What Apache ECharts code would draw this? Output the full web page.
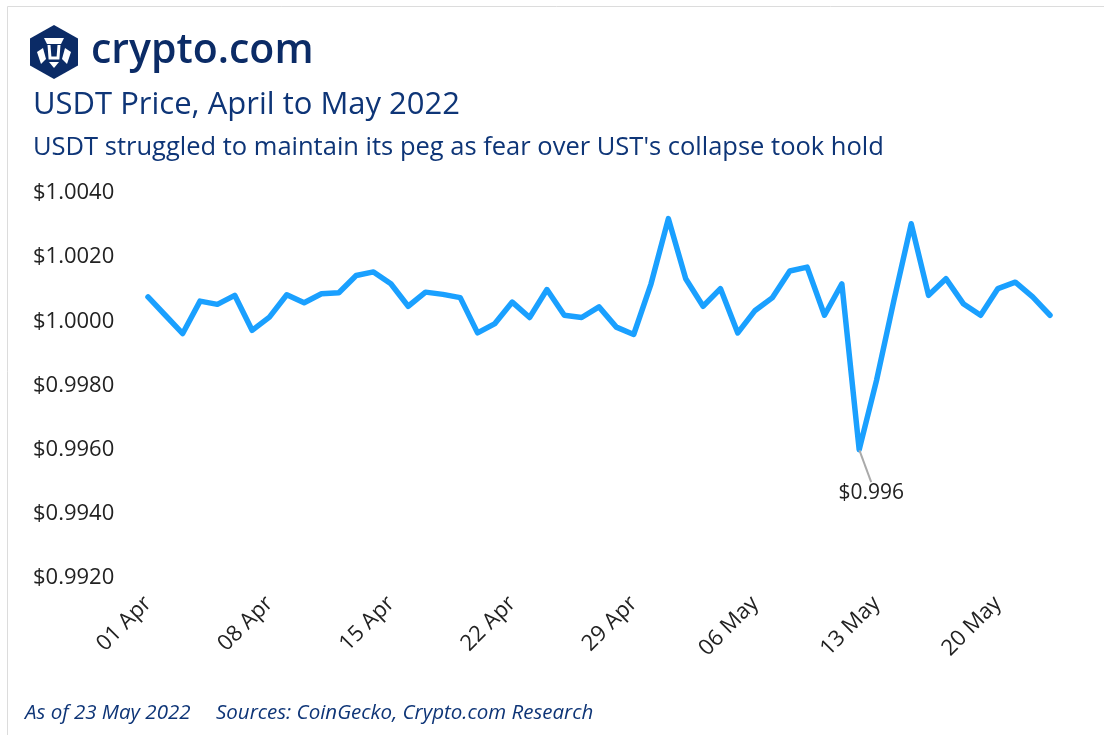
<!DOCTYPE html>
<html>
<head>
<meta charset="utf-8">
<script src="https://cdn.jsdelivr.net/npm/echarts@6/dist/echarts.min.js"></script>
<style>
  html, body { margin: 0; padding: 0; background: #fff; }
  #main { width: 1104px; height: 735px; }
</style>
</head>
<body>
<div id="main"></div>
<script>
// daily dates, 01 Apr - 23 May 2022
const dates = [
  '01 Apr','02 Apr','03 Apr','04 Apr','05 Apr','06 Apr','07 Apr','08 Apr','09 Apr','10 Apr',
  '11 Apr','12 Apr','13 Apr','14 Apr','15 Apr','16 Apr','17 Apr','18 Apr','19 Apr','20 Apr',
  '21 Apr','22 Apr','23 Apr','24 Apr','25 Apr','26 Apr','27 Apr','28 Apr','29 Apr','30 Apr',
  '01 May','02 May','03 May','04 May','05 May','06 May','07 May','08 May','09 May','10 May',
  '11 May','12 May','13 May','14 May','15 May','16 May','17 May','18 May','19 May','20 May',
  '21 May','22 May','23 May'
];

// USDT price (USD)
const prices = [
  1.00076, 1.00019, 0.99962, 1.00063, 1.00053, 1.00081, 0.99972, 1.00013, 1.00083, 1.00058,
  1.00086, 1.00089, 1.00143, 1.00154, 1.00117, 1.00047, 1.00091, 1.00084, 1.00074, 0.99964,
  0.99993, 1.00060, 1.00012, 1.00099, 1.00019, 1.00012, 1.00045, 0.99982, 0.99959, 1.00117,
  1.00320, 1.00133, 1.00047, 1.00102, 0.99964, 1.00034, 1.00074, 1.00157, 1.00169, 1.00019,
  1.00117, 0.99600, 0.99816, 1.00065, 1.00304, 1.00081, 1.00133, 1.00055, 1.00019, 1.00102,
  1.00122, 1.00076, 1.00019
];

const lowIndex = 41; // 12 May low, annotated
const yMin = 0.992, yMax = 1.004, yStep = 0.002;

const navy = '#0e3577';

const chart = echarts.init(document.getElementById('main'));

const seriesData = prices.map((v, i) => {
  if (i !== lowIndex) return v;
  return {
    value: v,
    symbol: 'circle',
    symbolSize: 1,
    itemStyle: { color: '#1aa0ff' },
    label: {
      show: true,
      position: 'bottom',
      distance: 2,
      formatter: '$' + v.toFixed(3),
      fontSize: 21,
      color: '#222',
      fontFamily: 'Open Sans'
    },
    labelLine: { show: true, lineStyle: { color: '#aaa', width: 2 } }
  };
});

chart.setOption({
  backgroundColor: '#fff',
  animation: false,
  textStyle: { fontFamily: 'Open Sans' },
  title: [
    {
      text: 'USDT Price, April to May 2022',
      left: 28, top: 85,
      textStyle: { fontSize: 31, fontWeight: 'normal', color: navy, fontFamily: 'Open Sans' }
    },
    {
      text: "USDT struggled to maintain its peg as fear over UST's collapse took hold",
      left: 28, top: 130,
      textStyle: { fontSize: 25.5, fontWeight: 'normal', color: navy, fontFamily: 'Open Sans' }
    }
  ],
  graphic: [
    { type: 'rect', shape: { x: 7.5, y: 6.5, width: 1110, height: 740 },
      style: { fill: 'none', stroke: '#dcdcdc', lineWidth: 1 }, silent: true },
    // logo mark
    { type: 'polygon', shape: { points: [[54, 25], [78, 38.5], [78, 65.5], [54, 79], [30, 65.5], [30, 38.5]] },
      style: { fill: '#0b2b66' } },
    { type: 'polygon', shape: { points: [[44, 38], [64, 38], [61, 44], [47, 44]] },
      style: { fill: '#fff' } },
    { type: 'polyline', shape: { points: [[49, 45], [50, 58], [58, 58], [59, 45]] },
      style: { stroke: '#fff', lineWidth: 3, fill: 'none' } },
    { type: 'polygon', shape: { points: [[37, 52], [43, 48], [46, 59], [41, 64]] },
      style: { fill: '#fff' } },
    { type: 'polygon', shape: { points: [[71, 52], [65, 48], [62, 59], [67, 64]] },
      style: { fill: '#fff' } },
    { type: 'polygon', shape: { points: [[49, 62], [59, 62], [54, 68]] },
      style: { fill: '#fff' } },
    { type: 'text', left: 91, top: 31,
      style: { text: 'crypto.com', fontSize: 41, fontWeight: 600, fill: '#0b2b66', fontFamily: 'Open Sans' } },
    { type: 'text', left: 25, top: 703,
      style: { text: 'As of 23 May 2022', fontSize: 20.5, fontStyle: 'italic', fill: navy, fontFamily: 'Open Sans' } },
    { type: 'text', left: 216, top: 703,
      style: { text: 'Sources: CoinGecko, Crypto.com Research', fontSize: 20.5, fontStyle: 'italic', fill: navy, fontFamily: 'Open Sans' } }
  ],
  grid: { left: 148, right: 54, top: 193, bottom: 157 },
  xAxis: {
    type: 'category',
    data: dates,
    boundaryGap: false,
    axisLine: { show: false },
    axisTick: { show: false },
    splitLine: { show: false },
    axisLabel: {
      interval: (i) => i % 7 === 0,
      rotate: 45,
      margin: 22,
      fontSize: 22,
      color: '#222',
      fontFamily: 'Open Sans'
    }
  },
  yAxis: {
    type: 'value',
    min: yMin, max: yMax, interval: yStep,
    axisLine: { show: false },
    axisTick: { show: false },
    splitLine: { show: false },
    axisLabel: {
      formatter: (v) => '$' + v.toFixed(4),
      align: 'left',
      margin: 115,
      fontSize: 22,
      color: '#222',
      fontFamily: 'Open Sans'
    }
  },
  series: [{
    type: 'line',
    data: seriesData,
    symbol: 'none',
    lineStyle: { color: '#1aa0ff', width: 5.5, join: 'round', cap: 'round' },
    itemStyle: { color: '#1aa0ff' },
    labelLayout: { dx: 12, dy: 30 }
  }]
});
</script>
</body>
</html>
